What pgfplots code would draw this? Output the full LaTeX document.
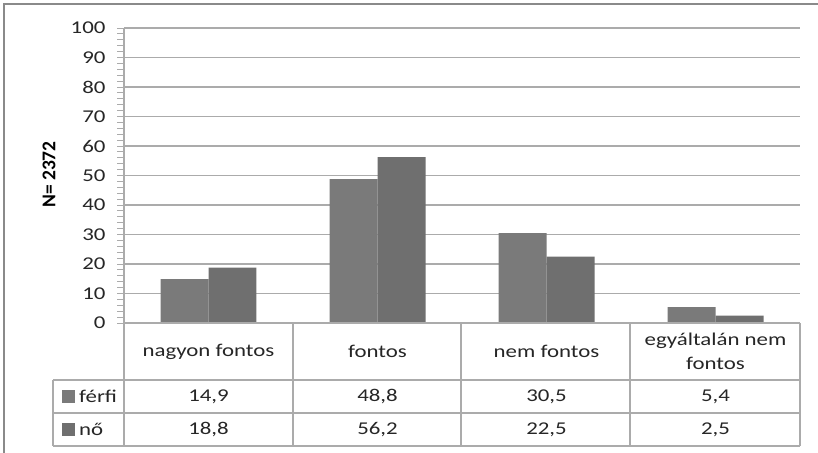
\documentclass[border=0pt]{standalone}
\usepackage{fontspec}
\setmainfont{Carlito}[FakeStretch=1.27]
\newfontfamily\lblfont{Carlito}
\usepackage{pgfplots}
\usepackage{pgfplotstable}
\pgfplotsset{compat=1.18}
\definecolor{ferfi}{HTML}{7A7A7A}
\definecolor{noc}{HTML}{6F6F6F}
\definecolor{gridc}{HTML}{ABABAB}
\definecolor{framec}{HTML}{8A8A8A}
\definecolor{txt}{HTML}{262626}

\pgfplotstableread{
x ferfi no
0 14.9 18.8
1 48.8 56.2
2 30.5 22.5
3 5.4 2.5
}\data

\begin{document}
\begin{tikzpicture}[x=1pt,y=1pt]
\useasboundingbox (0,0) rectangle (818,-452);
\fill[white] (0,0) rectangle (818,-452);
\draw[framec, line width=2.2pt] (4,-453) -- (4,-4) -- (819,-4);
\begin{axis}[
  at={(124pt,-323pt)}, anchor=south west,
  scale only axis, width=676pt, height=295pt,
  xmin=-0.5, xmax=3.5, ymin=0, ymax=100,
  ybar=0pt, bar width=0.284,
  ytick={0,10,...,100}, minor y tick num=4,
  xtick=\empty,
  axis y line*=left, axis x line*=bottom,
  axis line style={gridc, line width=1.2pt},
  tick align=outside,
  major tick length=7pt, minor tick length=7pt,
  every tick/.style={gridc, line width=0.9pt},
  ymajorgrids, grid style={gridc, line width=1.2pt},
  /pgf/number format/assume math mode=true,
  yticklabel style={font=\fontsize{18}{20}\selectfont, text=txt},
  yticklabel shift=8pt,
  clip=false,
]
\addplot[fill=ferfi, draw=none] table[x=x,y=ferfi]{\data};
\addplot[fill=noc, draw=none] table[x=x,y=no]{\data};
\end{axis}
% y label
\node[rotate=90, font=\lblfont\bfseries\fontsize{19.5}{22}\selectfont, text=black] at (49,-174.5) {N= 2372};
% data table
\begin{scope}[gridc, line width=1.2pt]
\draw (124,-323) -- (800,-323);
\draw (53,-380) -- (800,-380);
\draw (53,-413) -- (800,-413);
\draw (53,-446) -- (800,-446);
\draw (53,-380) -- (53,-446);
\draw (124,-323) -- (124,-446);
\draw (293,-323) -- (293,-446);
\draw (461,-323) -- (461,-446);
\draw (630,-323) -- (630,-446);
\draw (800,-323) -- (800,-446);
\end{scope}
\begin{scope}[every node/.style={font=\fontsize{18}{24}\selectfont, text=txt, inner sep=0pt}]
\node at (208.5,-351.5) {nagyon fontos};
\node at (377.5,-351.5) {fontos};
\node at (546.5,-351.5) {nem fontos};
\node[align=center] at (715.5,-351.5) {egyáltalán nem\\fontos};
\node at (208.5,-396.5) {14,9};
\node at (377.5,-396.5) {48,8};
\node at (546.5,-396.5) {30,5};
\node at (715.5,-396.5) {5,4};
\node at (208.5,-429.5) {18,8};
\node at (377.5,-429.5) {56,2};
\node at (546.5,-429.5) {22,5};
\node at (715.5,-429.5) {2,5};
\fill[ferfi] (62,-390) rectangle (75,-403);
\node[anchor=west] at (79,-396.5) {férfi};
\fill[noc] (62,-423) rectangle (75,-436);
\node[anchor=west] at (79,-429.5) {nő};
\end{scope}
\end{tikzpicture}
\end{document}
